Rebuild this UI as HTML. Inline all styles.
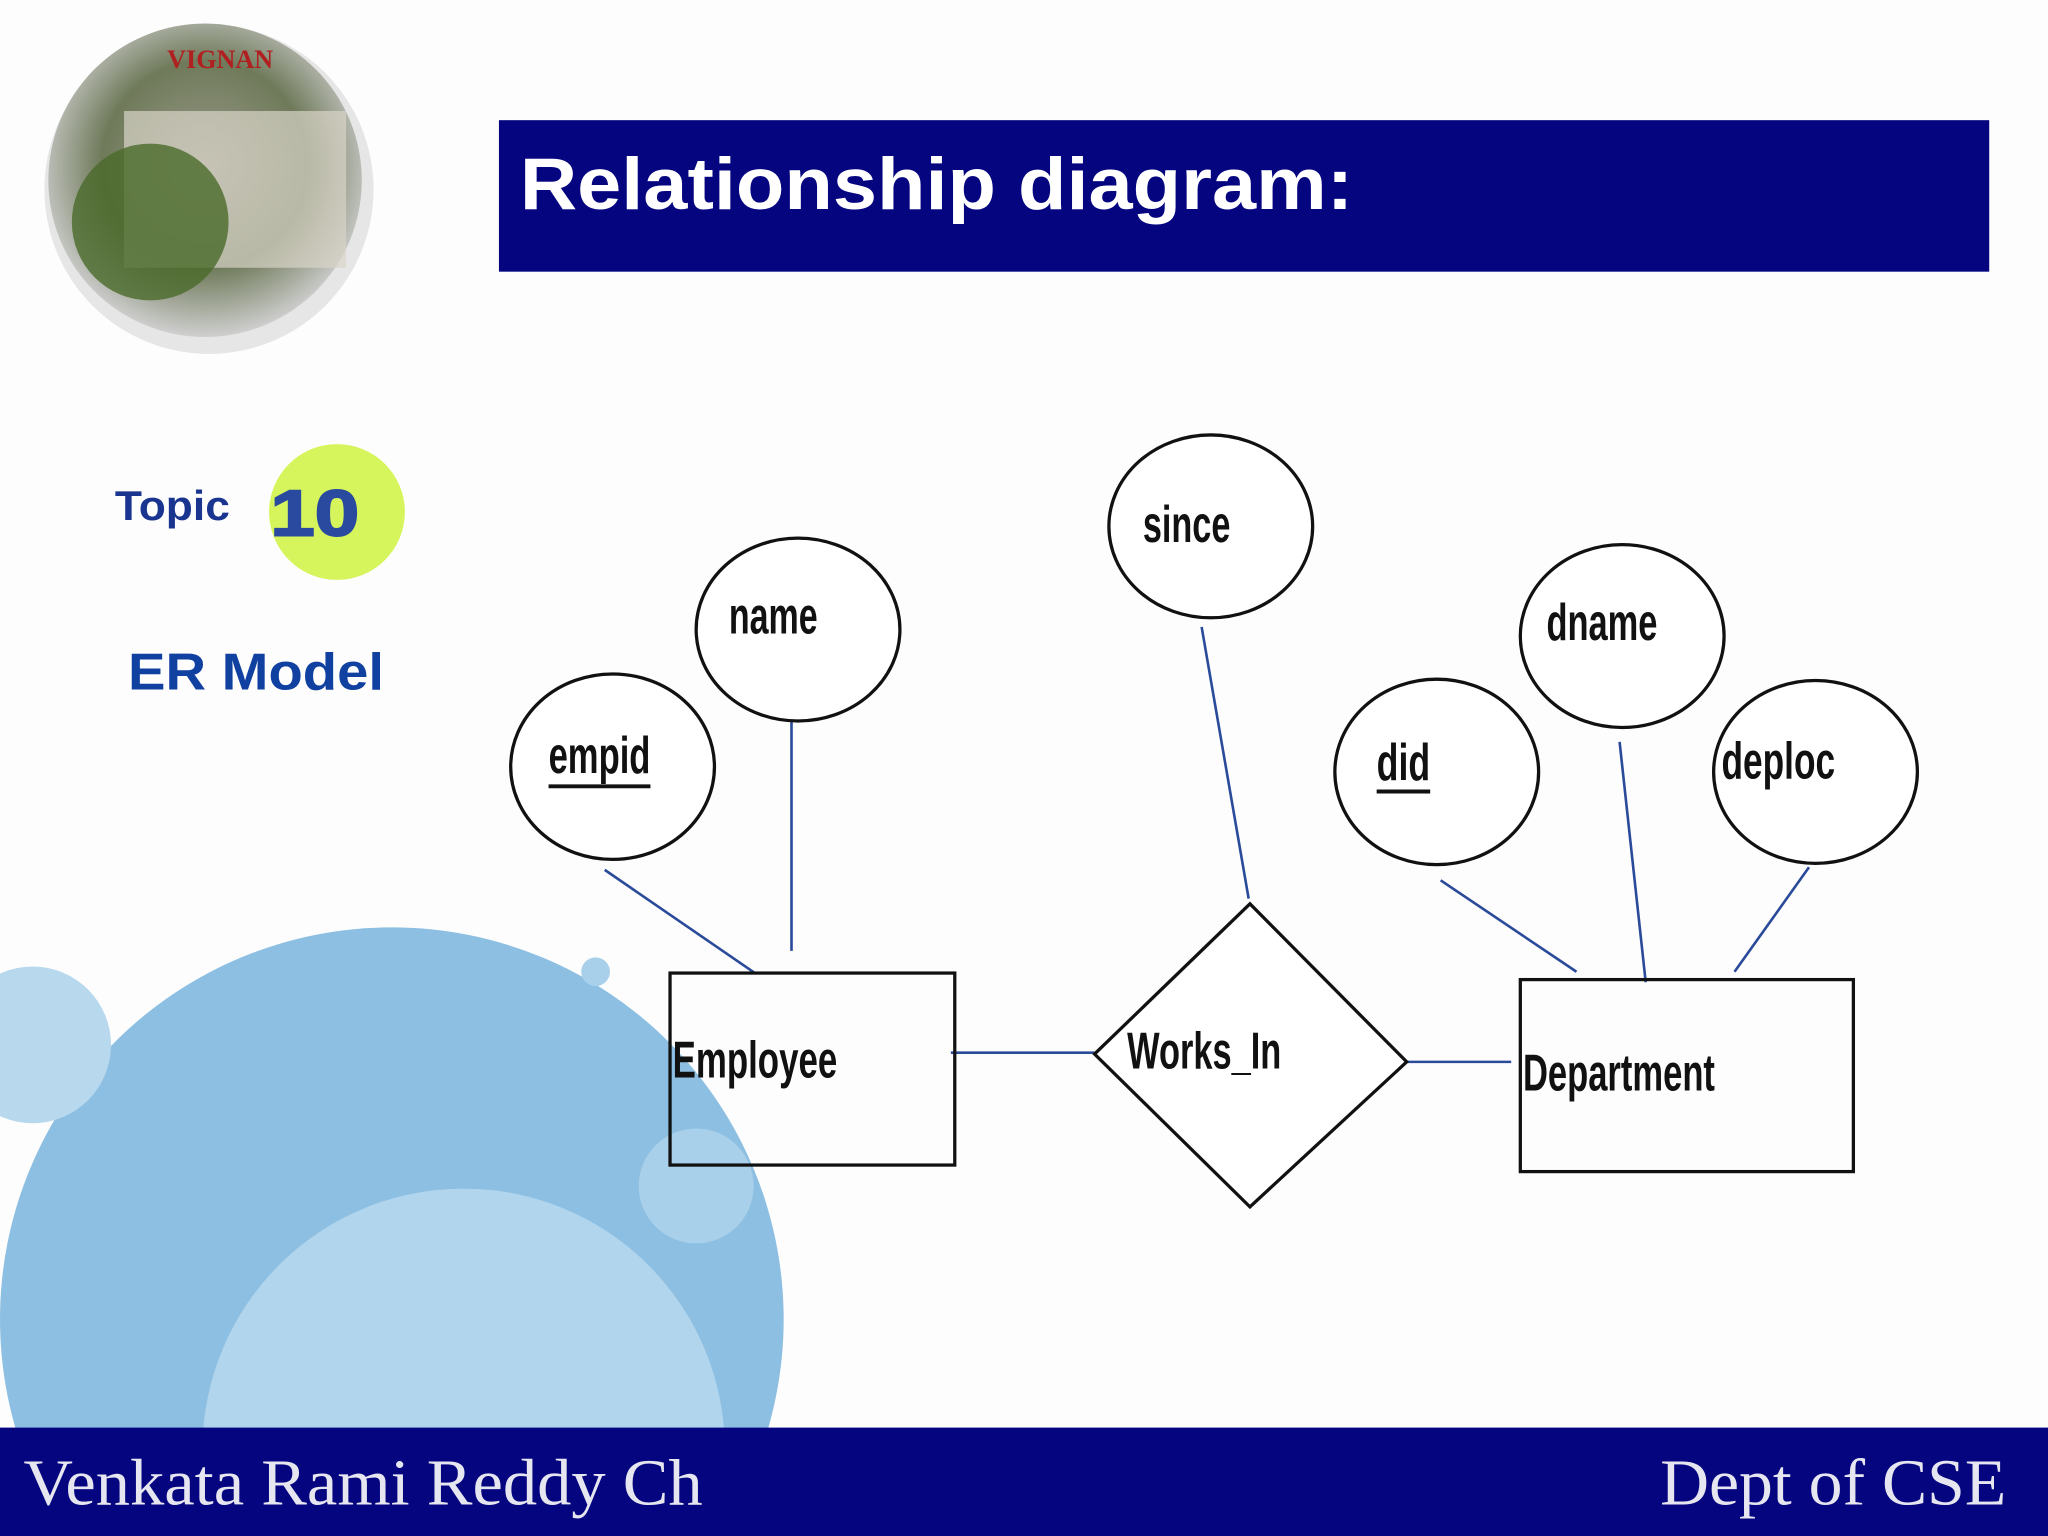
<!DOCTYPE html>
<html><head><meta charset="utf-8"><style>
html,body{margin:0;padding:0;background:#fff;overflow:hidden;width:2048px;height:1536px;position:relative;}
svg{display:block;position:absolute;left:0;top:0;overflow:hidden;}
</style></head><body>
<svg width="2048" height="1536" viewBox="0 0 1568 1176" xmlns="http://www.w3.org/2000/svg">
<defs>
<radialGradient id="lg" cx="50%" cy="45%" r="55%">
<stop offset="0%" stop-color="#9a9a8a"/><stop offset="60%" stop-color="#6f7a5a"/><stop offset="100%" stop-color="#cfcfcf"/>
</radialGradient>
<clipPath id="c"><rect width="1568" height="1176"/></clipPath>
</defs>
<g clip-path="url(#c)">
<rect width="1568" height="1176" fill="#fdfdfd"/>
<circle cx="300" cy="1010" r="300" fill="#8cbfe2"/>
<circle cx="355" cy="1110" r="200" fill="#b2d5ee"/>
<circle cx="25" cy="800" r="60" fill="#b8d8ee"/>
<circle cx="533" cy="908" r="44" fill="#a9d0ea"/>
<circle cx="456" cy="744" r="11" fill="#a9d0ea"/>
<circle cx="160" cy="145" r="126" fill="#e6e6e6"/>
<circle cx="157" cy="138" r="120" fill="url(#lg)"/>
<rect x="95" y="85" width="170" height="120" fill="#d8d4c8" opacity="0.7"/>
<circle cx="115" cy="170" r="60" fill="#4a6a2a" opacity="0.8"/>
<text x="128" y="52" font-family="Liberation Serif,serif" font-weight="bold" font-size="20" fill="#b02020">VIGNAN</text>
<rect x="382" y="92" width="1141" height="116" fill="#050580"/>
<text x="398" y="160" font-family="Liberation Sans,sans-serif" font-weight="bold" font-size="56" fill="#fff" textLength="638" lengthAdjust="spacingAndGlyphs">Relationship diagram:</text>
<text x="88" y="398" font-family="Liberation Sans,sans-serif" font-weight="bold" font-size="32" fill="#1a3590" textLength="88" lengthAdjust="spacingAndGlyphs">Topic</text>
<circle cx="258" cy="392" r="52" fill="#d6f55c"/>
<text x="207" y="410" font-family="Liberation Sans,sans-serif" font-weight="bold" font-size="50" fill="#2a4aa0" stroke="#2a4aa0" stroke-width="1.5" textLength="68" lengthAdjust="spacingAndGlyphs">10</text>
<text x="98" y="528" font-family="Liberation Sans,sans-serif" font-weight="bold" font-size="40" fill="#1040a0" textLength="196" lengthAdjust="spacingAndGlyphs">ER Model</text>
<g stroke="#2a4a9a" stroke-width="2" fill="none">
<line x1="463" y1="666" x2="578" y2="745"/>
<line x1="606" y1="550" x2="606" y2="728"/>
<line x1="920" y1="480" x2="956" y2="688"/>
<line x1="728" y1="806" x2="838" y2="806"/>
<line x1="1077" y1="813" x2="1157" y2="813"/>
<line x1="1103" y1="674" x2="1207" y2="744"/>
<line x1="1240" y1="568" x2="1260" y2="752"/>
<line x1="1385" y1="664" x2="1328" y2="744"/>
</g>
<g stroke="#111" stroke-width="2.5" fill="#fff">
<ellipse cx="927" cy="403" rx="78" ry="70"/>
<ellipse cx="611" cy="482" rx="78" ry="70"/>
<ellipse cx="469" cy="587" rx="78" ry="71"/>
<ellipse cx="1242" cy="487" rx="78" ry="70"/>
<ellipse cx="1100" cy="591" rx="78" ry="71"/>
<ellipse cx="1390" cy="591" rx="78" ry="70"/>
<rect x="513" y="745" width="218" height="147" fill="none"/>
<rect x="1164" y="750" width="255" height="147" fill="none"/>
<polygon points="957,692 1077,813 957,924 838,807"/>
</g>
<g font-family="Liberation Sans Narrow,Liberation Sans,sans-serif" font-weight="bold" font-size="40" fill="#111">
<text x="875" y="415" textLength="67" lengthAdjust="spacingAndGlyphs">since</text>
<text x="558" y="485" textLength="68" lengthAdjust="spacingAndGlyphs">name</text>
<text x="420" y="592" textLength="78" lengthAdjust="spacingAndGlyphs">empid</text>
<line x1="420" y1="602" x2="498" y2="602" stroke="#111" stroke-width="3"/>
<text x="1184" y="490" textLength="85" lengthAdjust="spacingAndGlyphs">dname</text>
<text x="1054" y="597" textLength="41" lengthAdjust="spacingAndGlyphs">did</text>
<line x1="1054" y1="606" x2="1095" y2="606" stroke="#111" stroke-width="3"/>
<text x="1318" y="596" textLength="87" lengthAdjust="spacingAndGlyphs">deploc</text>
<text x="515" y="825" textLength="126" lengthAdjust="spacingAndGlyphs">Employee</text>
<text x="863" y="818" textLength="118" lengthAdjust="spacingAndGlyphs">Works_In</text>
<text x="1166" y="835" textLength="147" lengthAdjust="spacingAndGlyphs">Department</text>
</g>
<rect x="0" y="1093" width="1568" height="83" fill="#050580"/>
<text x="18" y="1152" font-family="Liberation Serif,serif" font-size="50" fill="#e6e6f0" textLength="520" lengthAdjust="spacingAndGlyphs">Venkata Rami Reddy Ch</text>
<text x="1271" y="1152" font-family="Liberation Serif,serif" font-size="50" fill="#e6e6f0" textLength="265" lengthAdjust="spacingAndGlyphs">Dept of CSE</text>
</g>
</svg>
</body></html>
